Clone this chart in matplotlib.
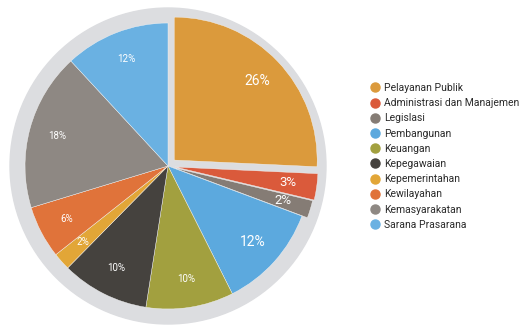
import matplotlib.pyplot as plt
from matplotlib.lines import Line2D
from matplotlib.patches import Circle

# data
kategori = ['Pelayanan Publik', 'Administrasi dan Manajemen', 'Legislasi', 'Pembangunan',
            'Keuangan', 'Kepegawaian', 'Kepemerintahan', 'Kewilayahan',
            'Kemasyarakatan', 'Sarana Prasarana']
persen = [26, 3, 2, 12, 10, 10, 2, 6, 18, 12]
warna = ['#DB9A3C', '#DA5A3B', '#857C75', '#5CA9DE', '#A2A03F',
         '#45423E', '#E2A637', '#E0733A', '#8E8883', '#6AB1E2']
ledak = [0.06, 0.05, 0.04, 0, 0, 0, 0, 0, 0, 0]
ukuran_label = [10, 9.5, 9.5, 10, 7, 7, 7, 7, 7, 7]

plt.rcParams['font.family'] = ['Roboto', 'DejaVu Sans']

fig = plt.figure(figsize=(5.29, 3.25), dpi=100)
fig.patch.set_facecolor('white')

ax = fig.add_axes([(168 - 160) / 529, (325 - 166 - 160) / 325, 320 / 529, 320 / 325])
ax.set_aspect('equal')
ax.axis('off')

# gray ring behind the pie
ax.add_patch(Circle((0, 0), 1.105, color='#DCDDE0', zorder=0))

wedges, texts, autotexts = ax.pie(
    persen, colors=warna, explode=ledak, startangle=90, counterclock=False,
    autopct=lambda p: '%d%%' % round(p * sum(persen) / 100), pctdistance=0.8,
    wedgeprops=dict(linewidth=0.3, edgecolor='#F4F4F4'))
for w in wedges:
    w.set_zorder(2)
for t, s in zip(autotexts, ukuran_label):
    t.set_color('white')
    t.set_fontsize(s)
    t.set_zorder(3)

ax.set_xlim(-1.119, 1.119)
ax.set_ylim(-1.119, 1.119)

handles = [Line2D([], [], marker='o', linestyle='none', markersize=6.5,
                  markerfacecolor=c, markeredgecolor=c) for c in warna]
fig.legend(handles, kategori, loc='upper left', bbox_to_anchor=(370 / 529, 1 - 83 / 325),
           frameon=False, fontsize=7.5, labelspacing=0.5, handletextpad=0.35,
           handlelength=1.0, borderaxespad=0, borderpad=0, labelcolor='#2A2A2A')

plt.savefig('out.png', dpi=100)
